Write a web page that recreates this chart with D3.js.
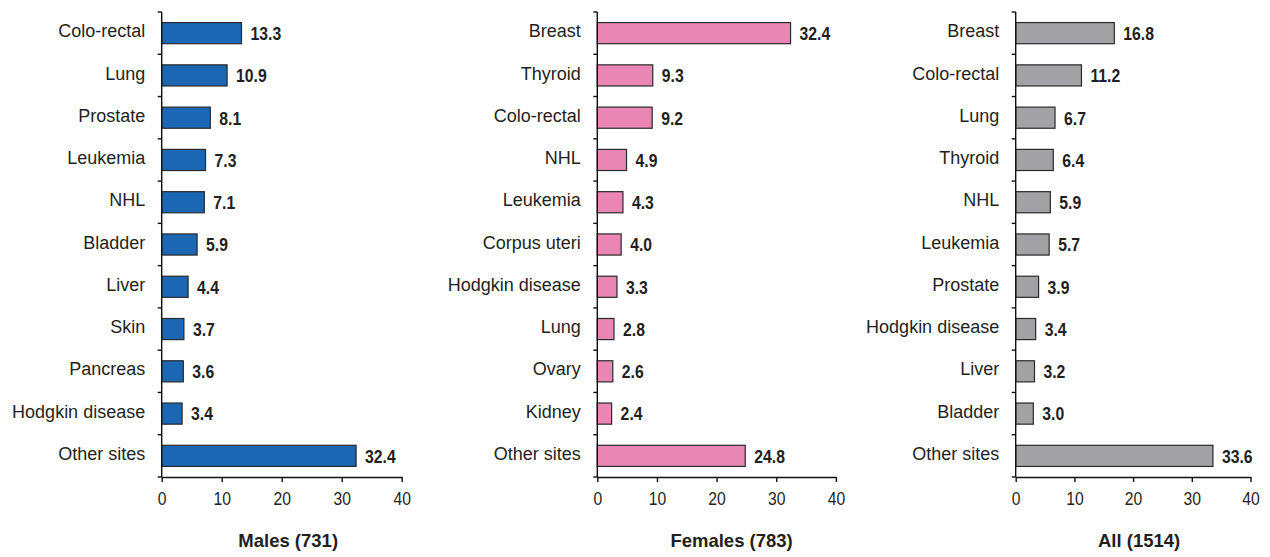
<!DOCTYPE html>
<html>
<head>
<meta charset="utf-8">
<script src="https://cdn.jsdelivr.net/npm/d3@7"></script>
<style>
  html, body { margin: 0; padding: 0; background: #fff; }
  svg { display: block; }
</style>
</head>
<body>
<svg id="chart" width="1270" height="557"></svg>
<script>
// ---- data ----
const malesCategories = ["Colo-rectal","Lung","Prostate","Leukemia","NHL","Bladder","Liver","Skin","Pancreas","Hodgkin disease","Other sites"];
const malesValues = [13.3,10.9,8.1,7.3,7.1,5.9,4.4,3.7,3.6,3.4,32.4];
const femalesCategories = ["Breast","Thyroid","Colo-rectal","NHL","Leukemia","Corpus uteri","Hodgkin disease","Lung","Ovary","Kidney","Other sites"];
const femalesValues = [32.4,9.3,9.2,4.9,4.3,4.0,3.3,2.8,2.6,2.4,24.8];
const allCategories = ["Breast","Colo-rectal","Lung","Thyroid","NHL","Leukemia","Prostate","Hodgkin disease","Liver","Bladder","Other sites"];
const allValues = [16.8,11.2,6.7,6.4,5.9,5.7,3.9,3.4,3.2,3.0,33.6];
const panelTitles = ["Males (731)","Females (783)","All (1514)"];
const xTickValues = [0,10,20,30,40];
const xDomain = [0,40];

// ---- layout / style ----
const panels = [
  {cats: malesCategories, vals: malesValues, title: panelTitles[0], x0: 161.7, x1: 401.7, color: "#1b67b3", titleShift: 6.5},
  {cats: femalesCategories, vals: femalesValues, title: panelTitles[1], x0: 597.3, x1: 835.9, color: "#ea86b4", titleShift: 15},
  {cats: allCategories, vals: allValues, title: panelTitles[2], x0: 1015.7, x1: 1250.5, color: "#a2a2a4", titleShift: 6}
];
const yTop = 12, yBottom = 477;
const textColor = "#231f20";
const svg = d3.select("#chart");

panels.forEach(p => {
  const g = svg.append("g");
  const x = d3.scaleLinear().domain(xDomain).range([p.x0, p.x1]);
  const y = d3.scaleBand().domain(p.cats).range([yTop, yBottom]).paddingInner(0.5).paddingOuter(0.25);
  const yTicks = d3.scaleLinear().domain([0, p.cats.length]).range([yTop, yBottom]);

  // bars
  g.selectAll("rect.bar").data(p.cats).join("rect")
    .attr("class", "bar")
    .attr("x", x(0))
    .attr("y", d => y(d))
    .attr("width", (d, i) => x(p.vals[i]) - x(0))
    .attr("height", y.bandwidth())
    .attr("fill", p.color)
    .attr("stroke", "#2a2a2a")
    .attr("stroke-width", 1.2);

  // value labels
  g.selectAll("g.val").data(p.cats).join("g")
    .attr("class", "val")
    .attr("transform", (d, i) => `translate(${x(p.vals[i]) + 9},${y(d) + y.bandwidth() / 2})`)
    .append("text")
    .attr("transform", "scale(0.83,1)")
    .attr("dy", "0.36em")
    .attr("font-family", "'Liberation Sans', Arial, sans-serif")
    .attr("font-weight", "bold")
    .attr("font-size", 19)
    .attr("fill", textColor)
    .text((d, i) => p.vals[i].toFixed(1));

  // category labels
  g.selectAll("text.cat").data(p.cats).join("text")
    .attr("class", "cat")
    .attr("x", x(0) - 16.5)
    .attr("y", d => y(d) + y.bandwidth() / 2)
    .attr("dy", "0.23em")
    .attr("text-anchor", "end")
    .attr("font-family", "'Liberation Sans', Arial, sans-serif")
    .attr("font-size", 18)
    .attr("fill", textColor)
    .text(d => d);

  // y axis line + boundary ticks
  g.append("line")
    .attr("x1", x(0)).attr("x2", x(0))
    .attr("y1", yTop).attr("y2", yBottom)
    .attr("stroke", "#111").attr("stroke-width", 1.4);
  g.selectAll("line.ytick").data(d3.range(p.cats.length + 1)).join("line")
    .attr("class", "ytick")
    .attr("x1", x(0) - 4).attr("x2", x(0))
    .attr("y1", d => yTicks(d)).attr("y2", d => yTicks(d))
    .attr("stroke", "#111").attr("stroke-width", 1.4);

  // x axis
  const xAxis = d3.axisBottom(x).tickValues(xTickValues).tickSize(5).tickSizeOuter(0).tickFormat(d3.format("d"));
  const ax = g.append("g").attr("transform", `translate(0,${yBottom})`).call(xAxis);
  ax.select(".domain").attr("stroke", "#111").attr("stroke-width", 1.4);
  ax.selectAll(".tick line").attr("stroke", "#111").attr("stroke-width", 1.4);
  ax.selectAll(".tick text")
    .attr("y", 28)
    .attr("dy", 0)
    .attr("transform", "scale(0.85,1)")
    .attr("font-family", "'Liberation Sans', Arial, sans-serif")
    .attr("font-size", 18.5)
    .attr("fill", textColor);

  // title
  g.append("text")
    .attr("x", (p.x0 + p.x1) / 2 + p.titleShift)
    .attr("y", 546.5)
    .attr("text-anchor", "middle")
    .attr("font-family", "'Liberation Sans', Arial, sans-serif")
    .attr("font-weight", "bold")
    .attr("font-size", 18.5)
    .attr("fill", textColor)
    .text(p.title);
});
</script>
</body>
</html>
